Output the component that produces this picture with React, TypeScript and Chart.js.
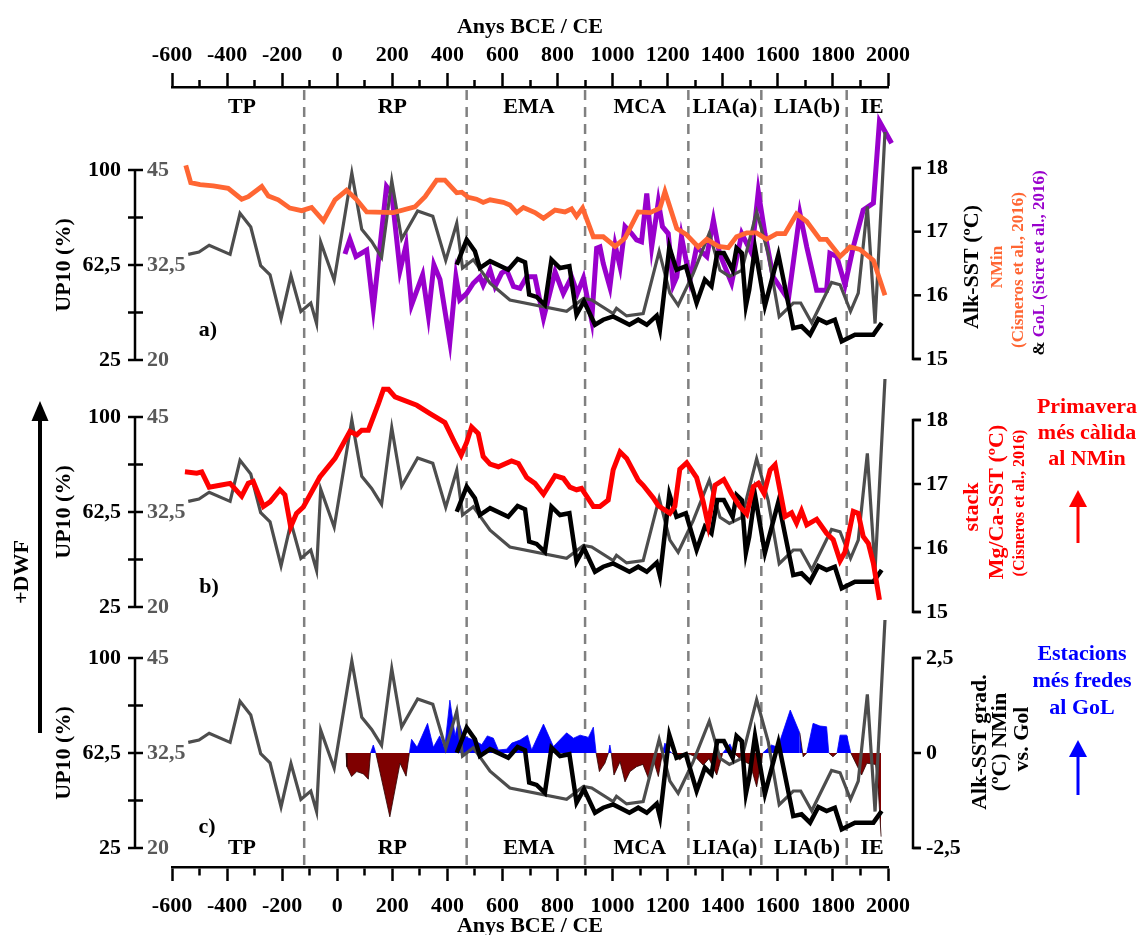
import React, { useEffect, useRef } from "react";
import { Chart, registerables } from "chart.js";

Chart.register(...registerables);

// ---------------- data ----------------
const X_MIN = -600;
const X_MAX = 2000;

const periodNames = ["TP", "RP", "EMA", "MCA", "LIA(a)", "LIA(b)", "IE"];
const periodCenters = [-346, 200, 696, 1099, 1408, 1706, 1942];
const periodBounds = [-120, 470, 900, 1275, 1540, 1850];

// UP10 (%) – black line
const up10Years = [434, 470, 500, 518, 555, 621, 655, 682, 697, 724, 754, 778, 809, 843, 869, 896, 936, 966, 1002, 1061, 1093, 1124, 1160, 1172, 1206, 1232, 1266, 1305, 1335, 1359, 1380, 1404, 1436, 1450, 1469, 1484, 1496, 1517, 1553, 1602, 1656, 1686, 1717, 1747, 1777, 1807, 1832, 1880, 1947, 1977];
const up10Values = [62.6, 72.5, 67.9, 61.3, 64.0, 60.6, 64.9, 63.6, 50.8, 49.9, 46.8, 64.6, 61.3, 62.0, 42.9, 48.2, 38.9, 40.9, 42.2, 38.9, 40.9, 38.9, 42.5, 37.2, 69.6, 60.6, 62.0, 47.5, 56.7, 54.1, 67.2, 67.2, 60.6, 69.2, 67.2, 46.4, 52.7, 69.2, 46.4, 66.6, 37.6, 38.3, 35.0, 41.2, 39.6, 40.9, 32.4, 35.0, 35.0, 39.6];

// grey record (grey scale 20–45)
const greyYears = [-541, -502, -465, -389, -353, -314, -278, -244, -204, -168, -132, -96, -75, -60, -11, 53, 89, 125, 161, 198, 234, 292, 347, 394, 434, 455, 494, 555, 627, 833, 894, 924, 1002, 1014, 1051, 1111, 1169, 1208, 1238, 1293, 1351, 1390, 1424, 1469, 1523, 1565, 1605, 1656, 1683, 1723, 1795, 1826, 1864, 1892, 1925, 1953, 1989];
const greyValues = [33.9, 34.2, 35.1, 33.9, 39.3, 37.5, 32.4, 31.2, 25.4, 31.1, 26.4, 27.5, 24.8, 35.5, 30.5, 44.6, 37.2, 35.6, 33.5, 43.6, 35.9, 39.6, 38.9, 33.1, 38.0, 32.1, 33.2, 30.1, 27.9, 26.4, 28.1, 27.9, 26.1, 26.8, 25.8, 26.1, 34.3, 28.8, 27.2, 31.4, 36.7, 31.8, 31.0, 31.8, 39.5, 34.0, 25.7, 27.5, 27.5, 24.9, 30.2, 29.9, 26.4, 28.8, 40.2, 24.8, 50.0];

// NMin Alk-SST (Cisneros et al., 2016) – orange
const nminYears = [-550, -532, -498, -450, -396, -347, -323, -274, -250, -214, -172, -129, -93, -50, -8, 34, 71, 107, 204, 282, 319, 361, 391, 434, 452, 476, 506, 530, 555, 603, 627, 652, 676, 718, 749, 791, 827, 851, 869, 891, 930, 966, 1009, 1045, 1093, 1136, 1172, 1190, 1233, 1269, 1311, 1342, 1384, 1420, 1450, 1487, 1523, 1559, 1596, 1626, 1668, 1705, 1753, 1777, 1826, 1862, 1898, 1947, 1989];
const nminValues = [18.04, 17.77, 17.74, 17.72, 17.68, 17.51, 17.55, 17.71, 17.56, 17.5, 17.37, 17.33, 17.38, 17.17, 17.5, 17.65, 17.5, 17.31, 17.3, 17.39, 17.55, 17.81, 17.81, 17.61, 17.62, 17.54, 17.51, 17.46, 17.5, 17.46, 17.42, 17.3, 17.38, 17.3, 17.21, 17.34, 17.31, 17.36, 17.24, 17.37, 16.92, 16.92, 16.77, 16.9, 17.31, 17.3, 17.37, 17.63, 17.05, 16.95, 16.76, 16.88, 16.77, 16.75, 16.92, 16.98, 16.98, 16.88, 16.97, 16.97, 17.28, 17.16, 16.88, 16.88, 16.61, 16.76, 16.72, 16.55, 16.0];

// GoL Alk-SST (Sicre et al., 2016) – purple
const golYears = [28, 46, 68, 107, 131, 179, 198, 228, 250, 270, 310, 331, 351, 373, 409, 431, 445, 470, 494, 518, 530, 555, 573, 597, 615, 640, 664, 688, 718, 749, 791, 821, 851, 872, 894, 924, 942, 954, 966, 990, 1009, 1027, 1045, 1069, 1087, 1105, 1124, 1142, 1166, 1181, 1202, 1220, 1233, 1250, 1281, 1305, 1342, 1366, 1388, 1432, 1469, 1505, 1529, 1553, 1583, 1638, 1680, 1705, 1741, 1777, 1789, 1814, 1844, 1874, 1910, 1947, 1969, 2013];
const golValues = [16.65, 16.88, 16.61, 16.71, 15.8, 17.71, 17.6, 16.39, 16.79, 15.85, 16.32, 15.68, 16.48, 16.25, 15.27, 16.29, 15.93, 16.03, 16.19, 16.29, 16.16, 16.4, 16.14, 16.35, 16.4, 16.14, 16.11, 16.29, 16.29, 15.64, 16.37, 16.03, 16.29, 16.03, 16.27, 15.61, 16.74, 16.76, 16.5, 16.13, 16.79, 16.45, 17.08, 16.97, 16.87, 16.84, 17.6, 16.76, 17.47, 17.08, 16.97, 16.16, 16.29, 16.92, 16.24, 16.76, 16.61, 17.18, 16.66, 16.19, 16.97, 16.66, 17.63, 16.97, 16.29, 15.93, 17.29, 16.76, 16.08, 16.08, 16.66, 16.61, 16.16, 16.76, 17.34, 17.45, 18.73, 18.39];

// stack Mg/Ca-SST (Cisneros et al., 2016) – red
const mgcaYears = [-553, -510, -492, -465, -426, -389, -347, -323, -305, -268, -244, -208, -190, -169, -148, -123, -63, -8, 46, 71, 89, 113, 150, 168, 186, 210, 289, 337, 391, 400, 425, 450, 470, 488, 512, 530, 555, 585, 633, 658, 688, 718, 749, 791, 821, 845, 869, 887, 930, 954, 984, 1002, 1027, 1051, 1093, 1111, 1148, 1166, 1208, 1226, 1244, 1269, 1305, 1329, 1347, 1372, 1404, 1432, 1462, 1487, 1511, 1529, 1550, 1572, 1590, 1626, 1650, 1668, 1686, 1705, 1741, 1777, 1801, 1826, 1844, 1874, 1892, 1910, 1929, 1947, 1969];
const mgcaValues = [17.19, 17.17, 17.19, 16.95, 16.98, 17.01, 16.81, 17.01, 17.04, 16.65, 16.72, 16.91, 16.83, 16.33, 16.54, 16.64, 17.11, 17.4, 17.82, 17.77, 17.84, 17.84, 18.26, 18.48, 18.48, 18.36, 18.23, 18.1, 17.96, 17.88, 17.66, 17.45, 17.65, 17.89, 17.79, 17.43, 17.31, 17.27, 17.36, 17.32, 17.1, 17.01, 16.84, 17.13, 17.09, 16.95, 16.91, 16.93, 16.65, 16.65, 16.75, 17.22, 17.5, 17.4, 17.06, 16.98, 16.78, 16.66, 16.54, 16.65, 17.23, 17.33, 17.1, 16.72, 16.36, 16.98, 17.07, 16.85, 16.65, 16.53, 16.96, 17.01, 16.85, 17.22, 17.3, 16.49, 16.55, 16.39, 16.58, 16.36, 16.45, 16.23, 16.13, 15.8, 15.94, 16.57, 16.54, 16.18, 16.07, 15.76, 15.19];

// Alk-SST gradient NMin vs GoL (ºC)
const gradYears = [32, 35, 52, 71, 95, 113, 121, 131, 140, 191, 228, 250, 262, 270, 290, 328, 349, 372, 390, 409, 428, 440, 458, 494, 525, 545, 567, 585, 615, 634, 664, 691, 706, 749, 785, 833, 858, 882, 912, 930, 940, 952, 972, 985, 990, 995, 1005, 1027, 1045, 1063, 1087, 1110, 1130, 1148, 1166, 1181, 1190, 1200, 1215, 1244, 1270, 1300, 1329, 1350, 1378, 1400, 1426, 1440, 1470, 1500, 1523, 1545, 1577, 1600, 1645, 1680, 1692, 1705, 1728, 1753, 1777, 1785, 1800, 1815, 1826, 1850, 1865, 1904, 1923, 1955, 1965, 1975];
const gradValues = [0, -0.36, -0.62, -0.49, -0.55, -0.69, 0, 0.21, 0, -1.68, -0.27, -0.61, 0, 0.36, 0.15, 0.78, 0.15, 0.45, 0.12, 1.39, 0.45, 0.85, 0.45, 0.34, 0.22, 0.45, 0.39, 0.08, 0.1, 0.26, 0.34, 0.47, 0.08, 0.76, 0.17, 0.53, 0.39, 0.47, 0.41, 0.68, 0, -0.49, -0.27, 0, 0.21, 0, -0.58, -0.23, -0.76, -0.49, -0.36, -0.3, -0.67, -0.18, -0.62, 0, 0.26, 0.1, 0, -0.18, 0, -0.1, -0.32, -0.15, -0.58, 0, 0.24, 0, -0.2, -0.3, -0.89, 0, 0.21, 0.15, 1.13, 0.52, -0.1, 0, 0.78, 0.71, 0.69, 0, -0.1, 0, 0.47, 0.47, 0, -0.58, -0.27, -0.3, -1.0, -2.2];

// axis ticks
const up10TickValues = [25, 43.75, 62.5, 81.25, 100];
const up10LabelValues = [25, 62.5, 100];
const up10LabelTexts = ["25", "62,5", "100"];
const greyLabelValues = [20, 32.5, 45];
const greyLabelTexts = ["20", "32,5", "45"];
const sstTickValues = [15, 16, 17, 18];
const sstTickTexts = ["15", "16", "17", "18"];
const gradTickValues = [-2.5, 0, 2.5];
const gradTickTexts = ["-2,5", "0", "2,5"];

// ---------------- layout / style ----------------
const W = 1142;
const H = 935;
const AREA_TOP = 87;
const AREA_BOTTOM = 867;
const FONT = '"Liberation Serif", "Times New Roman", serif';
const GREY = "#4d4d4d";
const ORANGE = "#ff6633";
const PURPLE = "#9900cc";

const PANELS = [
  { key: "a", top: 170, bottom: 360, rTop: 168, rBottom: 359, rMin: 15, rMax: 18 },
  { key: "b", top: 417, bottom: 607, rTop: 420, rBottom: 612, rMin: 15, rMax: 18 },
  { key: "c", top: 658, bottom: 848, rTop: 658, rBottom: 848, rMin: -2.5, rMax: 2.5 },
];

function span(vTop: number, vBot: number, pTop: number, pBot: number) {
  const s = (vTop - vBot) / (pBot - pTop);
  return { max: vTop + s * (pTop - AREA_TOP), min: vBot - s * (AREA_BOTTOM - pBot) };
}

const zip = (xs: number[], ys: number[]) => xs.map((x, i) => ({ x, y: ys[i] }));

function font(size = 22, weight = "bold") {
  return `${weight} ${size}px ${FONT}`;
}

function txt(ctx: CanvasRenderingContext2D, s: string, x: number, y: number, o: any = {}) {
  ctx.save();
  ctx.font = font(o.size ?? 22, o.weight ?? "bold");
  ctx.fillStyle = o.color ?? "#000";
  ctx.textAlign = o.align ?? "center";
  ctx.textBaseline = "middle";
  if (o.rotate) {
    ctx.translate(x, y);
    ctx.rotate(-Math.PI / 2);
    ctx.fillText(s, 0, 0);
  } else {
    ctx.fillText(s, x, y);
  }
  ctx.restore();
}

// rotated multi-coloured line centred at (x, y)
function rtextParts(ctx: CanvasRenderingContext2D, parts: [string, string][], x: number, y: number, size: number) {
  ctx.save();
  ctx.font = font(size);
  const total = parts.reduce((a, p) => a + ctx.measureText(p[0]).width, 0);
  ctx.translate(x, y);
  ctx.rotate(-Math.PI / 2);
  ctx.textBaseline = "middle";
  ctx.textAlign = "left";
  let cx = -total / 2;
  for (const [s, c] of parts) {
    ctx.fillStyle = c;
    ctx.fillText(s, cx, 0);
    cx += ctx.measureText(s).width;
  }
  ctx.restore();
}

function arrowUp(ctx: CanvasRenderingContext2D, x: number, tip: number, base: number, end: number, color: string, lw: number, hw: number) {
  ctx.save();
  ctx.strokeStyle = color;
  ctx.fillStyle = color;
  ctx.lineWidth = lw;
  ctx.beginPath();
  ctx.moveTo(x, end);
  ctx.lineTo(x, base);
  ctx.stroke();
  ctx.beginPath();
  ctx.moveTo(x, tip);
  ctx.lineTo(x - hw / 2, base);
  ctx.lineTo(x + hw / 2, base);
  ctx.closePath();
  ctx.fill();
  ctx.restore();
}

const decorPlugin = {
  id: "decor",
  beforeDatasetsDraw(chart: any) {
    const { ctx, chartArea, scales } = chart;
    const xs = scales.x;
    ctx.save();
    ctx.strokeStyle = "#808080";
    ctx.lineWidth = 2.5;
    ctx.setLineDash([10, 7]);
    periodBounds.forEach((v) => {
      const px = xs.getPixelForValue(v);
      ctx.beginPath();
      ctx.moveTo(px, chartArea.top + 3);
      ctx.lineTo(px, chartArea.bottom);
      ctx.stroke();
    });
    ctx.restore();
  },
  afterDraw(chart: any) {
    const { ctx, scales } = chart;
    const xs = scales.x;

    // period names
    periodNames.forEach((n, i) => {
      const px = xs.getPixelForValue(periodCenters[i]);
      txt(ctx, n, px, 107);
      txt(ctx, n, px, 848);
    });

    // panel letters
    txt(ctx, "a)", 208, 330);
    txt(ctx, "b)", 209, 587);
    txt(ctx, "c)", 207, 827);

    PANELS.forEach((p) => {
      const yL = scales["yL" + p.key];
      const yG = scales["yG" + p.key];
      const yR = scales["yR" + p.key];
      ctx.save();
      ctx.strokeStyle = "#000";
      ctx.lineWidth = 2.5;
      ctx.lineCap = "butt";
      // left axis
      ctx.beginPath();
      ctx.moveTo(135, yL.getPixelForValue(100));
      ctx.lineTo(135, yL.getPixelForValue(25));
      ctx.stroke();
      up10TickValues.forEach((v) => {
        const py = yL.getPixelForValue(v);
        ctx.beginPath();
        ctx.moveTo(128, py);
        ctx.lineTo(143, py);
        ctx.stroke();
      });
      // right axis
      const rVals = p.key === "c" ? gradTickValues : sstTickValues;
      const rTexts = p.key === "c" ? gradTickTexts : sstTickTexts;
      ctx.beginPath();
      ctx.moveTo(921, yR.getPixelForValue(p.rMax));
      ctx.lineTo(913, yR.getPixelForValue(p.rMax));
      ctx.lineTo(913, yR.getPixelForValue(p.rMin));
      ctx.lineTo(921, yR.getPixelForValue(p.rMin));
      ctx.stroke();
      rVals.forEach((v) => {
        const py = yR.getPixelForValue(v);
        ctx.beginPath();
        ctx.moveTo(913, py);
        ctx.lineTo(921, py);
        ctx.stroke();
      });
      ctx.restore();
      up10LabelValues.forEach((v, i) => txt(ctx, up10LabelTexts[i], 121, yL.getPixelForValue(v), { align: "right" }));
      greyLabelValues.forEach((v, i) => txt(ctx, greyLabelTexts[i], 147, yG.getPixelForValue(v), { align: "left", color: "#595959" }));
      rVals.forEach((v, i) => txt(ctx, rTexts[i], 926, yR.getPixelForValue(v), { align: "left" }));
      txt(ctx, "UP10 (%)", 64, (p.top + p.bottom) / 2, { rotate: true });
    });

    // right titles panel a
    txt(ctx, "Alk-SST (ºC)", 972, 267, { rotate: true });
    txt(ctx, "NMin", 998, 267, { rotate: true, size: 17, color: ORANGE });
    txt(ctx, "(Cisneros et al., 2016)", 1019, 270, { rotate: true, size: 17, color: ORANGE });
    rtextParts(ctx, [["& ", "#000"], ["GoL (Sicre et al., 2016)", PURPLE]], 1040, 263, 17);

    // right titles panel b
    txt(ctx, "stack", 972, 507, { rotate: true, color: "#ff0000" });
    txt(ctx, "Mg/Ca-SST (ºC)", 997, 502, { rotate: true, color: "#ff0000" });
    txt(ctx, "(Cisneros et al., 2016)", 1020, 503, { rotate: true, size: 16, color: "#ff0000" });

    // right titles panel c
    txt(ctx, "Alk-SST grad.", 980, 742, { rotate: true });
    txt(ctx, "(ºC) NMin", 1000, 742, { rotate: true });
    txt(ctx, "vs. Gol", 1022, 739, { rotate: true });

    // annotations
    ["Primavera", "més càlida", "al NMin"].forEach((s, i) => txt(ctx, s, 1087, 407 + i * 26, { color: "#ff0000" }));
    arrowUp(ctx, 1078, 490, 507, 543, "#ff0000", 3, 18);
    ["Estacions", "més fredes", "al GoL"].forEach((s, i) => txt(ctx, s, 1082, 654 + i * 27, { color: "#0000ff" }));
    arrowUp(ctx, 1078, 740, 757, 795, "#0000ff", 3, 18);

    arrowUp(ctx, 40, 401, 421, 733, "#000", 4, 17);
    txt(ctx, "+DWF", 22, 572, { rotate: true });
  },
};

function xTickLabel(v: number) {
  return v % 200 === 0 ? String(v) : "";
}

export default function App() {
  const ref = useRef<HTMLCanvasElement | null>(null);

  useEffect(() => {
    if (!ref.current) return;
    const tickFont = { family: FONT, size: 22, weight: "bold" as const };
    const xCommon = {
      type: "linear" as const,
      min: X_MIN,
      max: X_MAX,
      offset: false,
      border: { display: true, color: "#000", width: 2.5 },
    };
    const xTicks = (padding: number) => ({
      stepSize: 100,
      autoSkip: false,
      maxRotation: 0,
      minRotation: 0,
      color: "#000",
      font: tickFont,
      padding,
      callback: (v: any) => xTickLabel(Number(v)),
    });

    const scales: any = {
      x: {
        ...xCommon,
        position: "bottom",
        afterFit: (s: any) => {
          s.height = H - AREA_BOTTOM;
        },
        ticks: xTicks(12),
        title: { display: true, text: "Anys BCE / CE", color: "#000", font: { ...tickFont, lineHeight: 0.8 }, padding: { top: 0, bottom: 0 } },
        grid: {
          drawOnChartArea: false,
          drawTicks: true,
          tickLength: 14,
          tickWidth: 2.5,
          tickColor: "#000",
          tickBorderDash: (c: any) => (c.tick && c.tick.value % 200 === 0 ? [] : [7, 100]),
        },
      },
      xTop: {
        ...xCommon,
        position: "top",
        afterFit: (s: any) => {
          s.height = AREA_TOP;
        },
        ticks: xTicks(4),
        title: { display: true, text: "Anys BCE / CE", color: "#000", font: { ...tickFont, lineHeight: 1.0 }, padding: { top: 16, bottom: 0 } },
        grid: {
          drawOnChartArea: false,
          drawTicks: true,
          tickLength: 14,
          tickWidth: 2.5,
          tickColor: "#000",
          tickBorderDash: (c: any) => (c.tick && c.tick.value % 200 === 0 ? [] : [0, 7, 7, 100]),
        },
      },
    };
    PANELS.forEach((p) => {
      const l = span(100, 25, p.top, p.bottom);
      const g = span(45, 20, p.top, p.bottom);
      const r = span(p.rMax, p.rMin, p.rTop, p.rBottom);
      scales["yL" + p.key] = { type: "linear", display: false, min: l.min, max: l.max };
      scales["yG" + p.key] = { type: "linear", display: false, min: g.min, max: g.max };
      scales["yR" + p.key] = { type: "linear", display: false, min: r.min, max: r.max };
    });

    const line = (label: string, xs: number[], ys: number[], yAxisID: string, color: string, width: number, order: number) => ({
      label,
      data: zip(xs, ys),
      xAxisID: "x",
      yAxisID,
      borderColor: color,
      backgroundColor: color,
      borderWidth: width,
      pointRadius: 0,
      tension: 0,
      fill: false,
      clip: false as const,
      order,
      borderJoinStyle: "miter" as const,
    });

    const datasets: any[] = [
      // panel a
      line("UP10 a", up10Years, up10Values, "yLa", "#000", 4.5, 1),
      line("NMin Alk-SST", nminYears, nminValues, "yRa", ORANGE, 4.8, 2),
      line("grey a", greyYears, greyValues, "yGa", GREY, 3.2, 3),
      line("GoL Alk-SST", golYears, golValues, "yRa", PURPLE, 5, 4),
      // panel b
      line("Mg/Ca-SST", mgcaYears, mgcaValues, "yRb", "#ff0000", 5, 1),
      line("UP10 b", up10Years, up10Values, "yLb", "#000", 4.5, 2),
      line("grey b", greyYears, greyValues, "yGb", GREY, 3.2, 3),
      // panel c
      line("UP10 c", up10Years, up10Values, "yLc", "#000", 4.5, 1),
      line("grey c", greyYears, greyValues, "yGc", GREY, 3.2, 2),
      {
        ...line("Alk-SST grad.", gradYears, gradValues, "yRc", "#2a0000", 0.8, 10),
        fill: { target: { value: 0 }, above: "#0000ff", below: "#7f0000" },
        segment: {
          borderColor: (c: any) => (c.p0.parsed.y < 0 || c.p1.parsed.y < 0 ? "#2a0000" : "#0000ff"),
        },
      },
    ];

    const chart = new Chart(ref.current, {
      type: "line",
      data: { datasets },
      options: {
        responsive: false,
        maintainAspectRatio: false,
        animation: false,
        events: [],
        layout: { padding: { left: 172, right: W - 888, top: 0, bottom: 0 } },
        plugins: { legend: { display: false }, tooltip: { enabled: false }, title: { display: false } },
        scales,
      },
      plugins: [decorPlugin],
    });
    return () => chart.destroy();
  }, []);

  return (
    <div style={{ position: "absolute", left: 0, top: 0, width: W, height: H, background: "#fff" }}>
      <canvas ref={ref} width={W} height={H} style={{ width: W, height: H, display: "block" }} />
    </div>
  );
}
